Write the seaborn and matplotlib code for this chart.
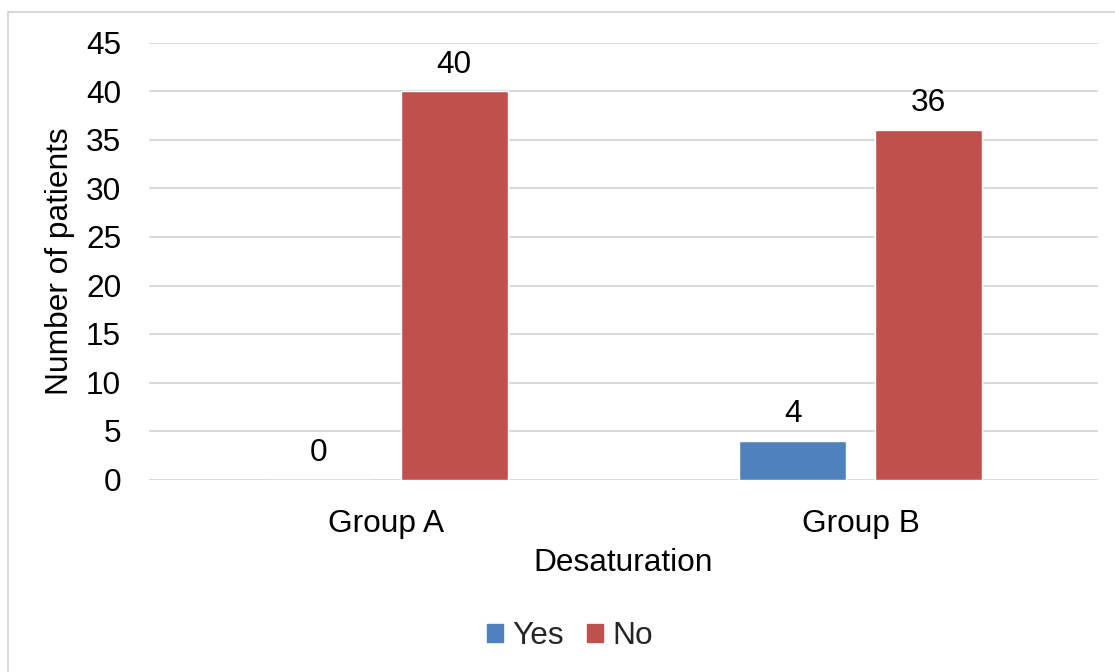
import matplotlib
matplotlib.use("Agg")
import matplotlib.pyplot as plt
import seaborn as sns
import pandas as pd
from matplotlib.patches import Rectangle

# Data
groups = ["Group A", "Group B"]
answers = ["Yes", "No"]
yes_counts = [0, 4]
no_counts = [40, 36]
y_ticks = [0, 5, 10, 15, 20, 25, 30, 35, 40, 45]

colors = {"Yes": "#4F81BD", "No": "#C0504D"}

df = pd.DataFrame({
    "group": groups * 2,
    "answer": ["Yes"] * len(groups) + ["No"] * len(groups),
    "count": yes_counts + no_counts,
})

sns.set_theme(style="white")
plt.rcParams["font.family"] = ["Liberation Sans", "DejaVu Sans"]
FS = 22.8

fig = plt.figure(figsize=(11.15, 6.72), dpi=100)
ax = fig.add_axes([149 / 1115, 1 - 479.5 / 672, (1098 - 149) / 1115, (479.5 - 43) / 672])

sns.barplot(data=df, x="group", y="count", hue="answer", order=groups,
            hue_order=answers, palette=colors, width=0.572, gap=0.212,
            saturation=1, errorbar=None, legend=False, ax=ax)

ax.set_ylim(0, 45)
ax.set_yticks(y_ticks)
ax.set_xlim(-0.5, 1.5)
ax.grid(axis="y", color="#d9d9d9", linewidth=1.4)
ax.set_axisbelow(True)
for s in ax.spines.values():
    s.set_visible(False)
ax.tick_params(axis="y", length=0, pad=20, labelsize=FS, labelcolor="black")
ax.tick_params(axis="x", length=0, pad=21, labelsize=FS, labelcolor="black")

for cont in ax.containers:
    ax.bar_label(cont, fmt="%d", padding=8.5, fontsize=FS, color="black")

ax.set_ylabel("Number of patients", fontsize=FS, color="black", va="center")
ax.yaxis.set_label_coords((60.5 - 149) / 949, 0.5)
ax.set_xlabel("Desaturation", fontsize=FS, color="black", va="center")
ax.xaxis.set_label_coords(0.5, -(563 - 479.5) / 436.5)

handles = [Rectangle((0, 0), 1, 1, color=colors[a]) for a in answers]
fig.legend(handles, answers, loc="center", bbox_to_anchor=(570 / 1115, 1 - 636 / 672),
           ncol=2, frameon=False, fontsize=FS, handlelength=0.5, handleheight=0.5,
           handletextpad=0.3, columnspacing=0.75)

# Chart frame
fig.patches.append(Rectangle((8 / 1115, -0.1), 1.2, 1.1 - 12 / 672, transform=fig.transFigure,
                             fill=False, edgecolor="#d9d9d9", linewidth=1.5))

fig.savefig("out.png", dpi=100, facecolor="white")
